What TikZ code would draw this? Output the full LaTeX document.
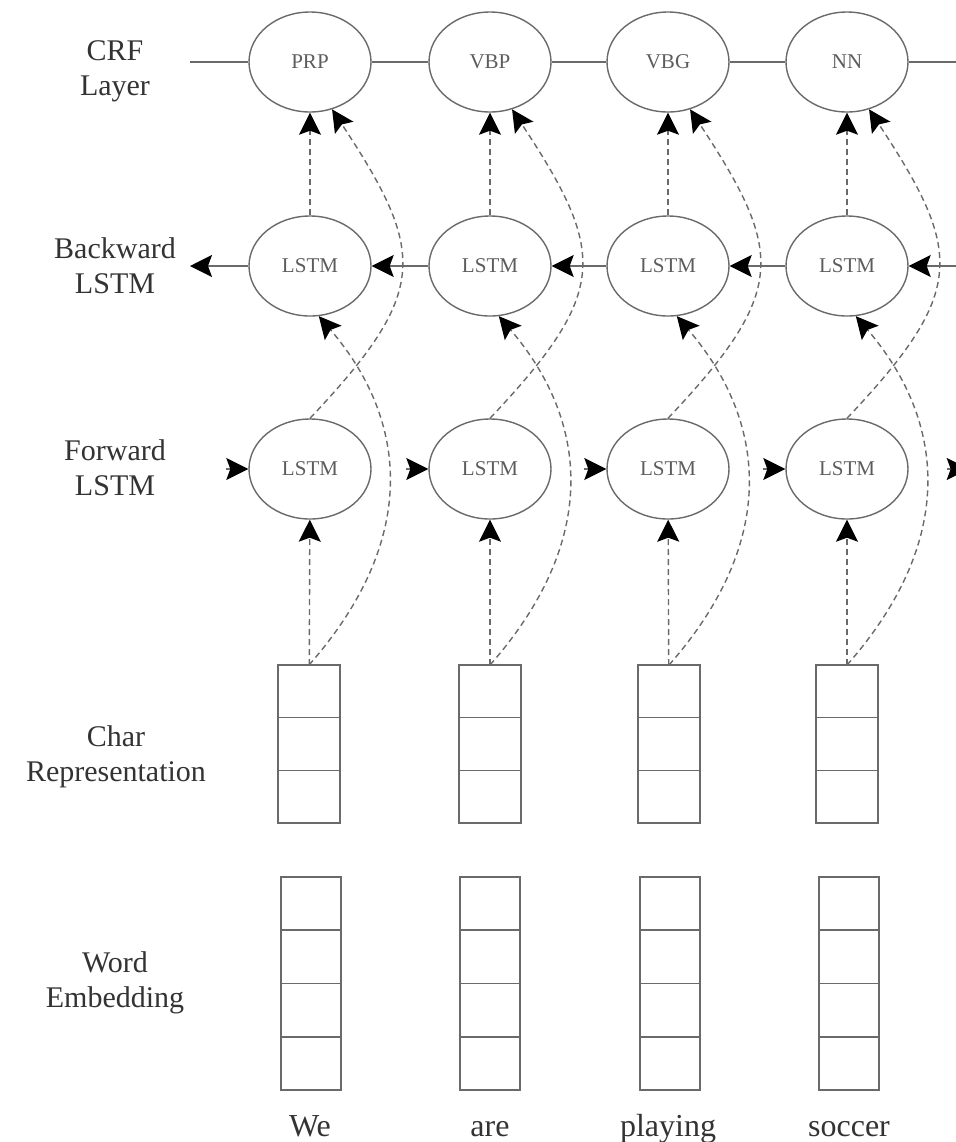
\documentclass[tikz,border=0pt]{standalone}
\usepackage{fontspec}
\setmainfont{Liberation Serif}
\usepackage{tikz}
\usetikzlibrary{shapes.geometric, arrows.meta, positioning, calc}

\definecolor{lineGray}{HTML}{6A6A6A}
\definecolor{textGray}{HTML}{333333}

\tikzset{
	unit/.style = {draw = lineGray, ellipse, line width = 0.7pt, minimum width = 61pt, minimum height = 50pt, inner sep = 0pt, text = textGray!80, font = \fontsize{10.5}{13}\selectfont},
	layerLabel/.style = {align = center, text = textGray, font = \fontsize{15}{17.5}\selectfont},
	word/.style = {anchor = base, text = textGray, font = \fontsize{16}{19}\selectfont},
	vecbox/.style = {draw = lineGray, line width = 0.8pt, minimum width = 31pt, inner sep = 0pt, outer sep = 0pt},
	cellLine/.style = {lineGray, line width = 0.8pt},
	solidLink/.style = {lineGray, line width = 0.7pt},
	tipHead/.style = {-{Stealth[length = 11pt, width = 11pt, inset = 2pt, color = black]}},
	dashLink/.style = {lineGray, line width = 0.7pt, dash pattern = on 3pt off 2pt, tipHead},
}

\newcommand{\charVec}[2]{
	\node[vecbox, minimum height = 79pt] (#1) at (#2, 744) {};
	\draw[cellLine] ($(#1.north west)!0.3333!(#1.south west)$) -- ($(#1.north east)!0.3333!(#1.south east)$);
	\draw[cellLine] ($(#1.north west)!0.6667!(#1.south west)$) -- ($(#1.north east)!0.6667!(#1.south east)$);
}
\newcommand{\wordVec}[2]{
	\node[vecbox, minimum width = 30pt, minimum height = 106.5pt] (#1) at (#2, 983.5) {};
	\draw[cellLine] ($(#1.north west)!0.25!(#1.south west)$) -- ($(#1.north east)!0.25!(#1.south east)$);
	\draw[cellLine] ($(#1.north west)!0.5!(#1.south west)$) -- ($(#1.north east)!0.5!(#1.south east)$);
	\draw[cellLine] ($(#1.north west)!0.75!(#1.south west)$) -- ($(#1.north east)!0.75!(#1.south east)$);
}

\begin{document}
\begin{tikzpicture}[x = 0.5pt, y = -0.5pt]
	\useasboundingbox (0, 0) rectangle (956, 1142);
	\clip (0, 0) rectangle (956, 1142);

	% layer labels
	\node[layerLabel] (crfLab) at (115, 71) {CRF\\Layer};
	\node[layerLabel] (bwLab) at (115, 266) {Backward\\LSTM};
	\node[layerLabel] (fwLab) at (115, 468) {Forward\\LSTM};
	\node[layerLabel] (chLab) at (116, 757) {Char\\Representation};
	\node[layerLabel] (weLab) at (115, 983) {Word\\Embedding};

	% crf layer
	\node[unit] (c1) at (310, 62) {PRP};
	\node[unit] (c2) at (490, 62) {VBP};
	\node[unit] (c3) at (668, 62) {VBG};
	\node[unit] (c4) at (847, 62) {NN};

	% backward lstm
	\node[unit] (b1) at (310, 266) {LSTM};
	\node[unit] (b2) at (490, 266) {LSTM};
	\node[unit] (b3) at (668, 266) {LSTM};
	\node[unit] (b4) at (847, 266) {LSTM};

	% forward lstm
	\node[unit] (f1) at (310, 469) {LSTM};
	\node[unit] (f2) at (490, 469) {LSTM};
	\node[unit] (f3) at (668, 469) {LSTM};
	\node[unit] (f4) at (847, 469) {LSTM};

	% char representation
	\charVec{ch1}{309}
	\charVec{ch2}{490}
	\charVec{ch3}{669}
	\charVec{ch4}{847}

	% word embedding
	\wordVec{we1}{311}
	\wordVec{we2}{490}
	\wordVec{we3}{670}
	\wordVec{we4}{849}

	% words
	\node[word] (t1) at (310, 1136) {We};
	\node[word] (t2) at (490, 1136) {are};
	\node[word] (t3) at (668, 1136) {playing};
	\node[word] (t4) at (849, 1136) {soccer};

	% crf chain
	\coordinate (crfL) at (190, 62);
	\coordinate (crfR) at (956, 62);
	\draw[solidLink] (crfL) -- (c1) (c1) -- (c2) (c2) -- (c3) (c3) -- (c4) (c4) -- (crfR);

	% backward chain
	\coordinate (bwOut) at (190, 266);
	\coordinate (bwIn) at (956, 266);
	\draw[solidLink, tipHead] (b1) -- (bwOut);
	\draw[solidLink, tipHead] (b2) -- (b1);
	\draw[solidLink, tipHead] (b3) -- (b2);
	\draw[solidLink, tipHead] (b4) -- (b3);
	\draw[solidLink, tipHead] (bwIn) -- (b4);

	% forward chain
	\coordinate[left = 11pt of f1.west] (fw1);
	\coordinate[left = 11pt of f2.west] (fw2);
	\coordinate[left = 11pt of f3.west] (fw3);
	\coordinate[left = 11pt of f4.west] (fw4);
	\coordinate[right = 19pt of f4.east] (fw5);
	\coordinate[right = 30pt of f4.east] (fwOut);
	\draw[solidLink, tipHead] (fw1) -- (f1);
	\draw[solidLink, tipHead] (fw2) -- (f2);
	\draw[solidLink, tipHead] (fw3) -- (f3);
	\draw[solidLink, tipHead] (fw4) -- (f4);
	\draw[solidLink, tipHead] (fw5) -- (fwOut);

	% straight dashed links
	\draw[dashLink] (b1) -- (c1);
	\draw[dashLink] (b2) -- (c2);
	\draw[dashLink] (b3) -- (c3);
	\draw[dashLink] (b4) -- (c4);
	\draw[dashLink] (ch1) -- (f1);
	\draw[dashLink] (ch2) -- (f2);
	\draw[dashLink] (ch3) -- (f3);
	\draw[dashLink] (ch4) -- (f4);

	% curved dashed links
	\draw[dashLink] (ch1.north) .. controls +(110, -125) and +(90, 105) .. (b1.-80);
	\draw[dashLink] (ch2.north) .. controls +(110, -125) and +(90, 105) .. (b2.-80);
	\draw[dashLink] (ch3.north) .. controls +(110, -125) and +(90, 105) .. (b3.-80);
	\draw[dashLink] (ch4.north) .. controls +(110, -125) and +(90, 105) .. (b4.-80);
	\draw[dashLink] (f1.north) .. controls +(120, -127) and +(94, 143) .. (c1.-65);
	\draw[dashLink] (f2.north) .. controls +(120, -127) and +(94, 143) .. (c2.-65);
	\draw[dashLink] (f3.north) .. controls +(120, -127) and +(94, 143) .. (c3.-65);
	\draw[dashLink] (f4.north) .. controls +(120, -127) and +(94, 143) .. (c4.-65);
\end{tikzpicture}
\end{document}
